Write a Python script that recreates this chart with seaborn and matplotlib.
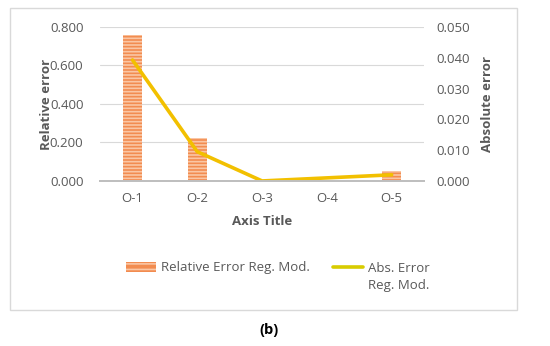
import matplotlib.pyplot as plt
import matplotlib.patches as mpatches
from matplotlib.lines import Line2D
from matplotlib.ticker import FormatStrFormatter
import pandas as pd
import seaborn as sns

# data
categories = ["O-1", "O-2", "O-3", "O-4", "O-5"]
relative_error = [0.760, 0.225, 0.002, 0.002, 0.050]
absolute_error = [0.0393, 0.0095, 0.0000, 0.0010, 0.0020]

df = pd.DataFrame({"obs": categories, "rel": relative_error, "abs": absolute_error})

sns.set_style("white")
plt.rcParams["font.family"] = ["Open Sans", "DejaVu Sans"]
plt.rcParams["hatch.linewidth"] = 1.2

grey_txt = "#595959"
bar_col = "#F28C50"
hatch_col = "#FAC6A4"
line_col = "#F2C000"

fig = plt.figure(figsize=(5.5, 3.46), dpi=100)
ax = fig.add_axes([0.182, 0.477, 0.589, 0.445])

sns.barplot(df, x="obs", y="rel", ax=ax, color=bar_col, width=0.29,
            saturation=1, edgecolor=hatch_col, linewidth=0, hatch="-----")

ax2 = ax.twinx()
sns.lineplot(df, x="obs", y="abs", ax=ax2, color=line_col, linewidth=2.6)

ax.set_ylim(0, 0.8)
ax.set_yticks([0, 0.2, 0.4, 0.6, 0.8])
ax.yaxis.set_major_formatter(FormatStrFormatter("%.3f"))
ax2.set_ylim(0, 0.05)
ax2.set_yticks([0, 0.01, 0.02, 0.03, 0.04, 0.05])
ax2.yaxis.set_major_formatter(FormatStrFormatter("%.3f"))
ax.set_xlim(-0.5, 4.5)

ax.grid(axis="y", color="#D9D9D9", linewidth=0.8)
ax.set_axisbelow(True)
for a in (ax, ax2):
    for s in ["top", "left", "right"]:
        a.spines[s].set_visible(False)
    a.spines["bottom"].set_color("#BFBFBF")
    a.spines["bottom"].set_linewidth(1.4)
    a.tick_params(length=0, labelsize=9.5, labelcolor=grey_txt)
ax.tick_params(axis="y", pad=12)
ax.tick_params(axis="x", pad=8)
ax2.tick_params(axis="y", pad=9)

ax.set_xlabel("Axis Title", fontsize=9.5, fontweight="bold", color=grey_txt, labelpad=7)
ax.set_ylabel("Relative error", fontsize=9.5, fontweight="bold", color=grey_txt, labelpad=-2)
ax2.set_ylabel("Absolute error", fontsize=9.5, fontweight="bold", color=grey_txt,
               rotation=90, labelpad=8)

handles = [mpatches.Patch(facecolor=bar_col, edgecolor=hatch_col, linewidth=0, hatch="---"),
           Line2D([0], [0], color="#D8CC00", linewidth=2.6)]
labels = ["Relative Error Reg. Mod.", "Abs. Error"]
leg = fig.legend(handles, labels, loc="center", bbox_to_anchor=(0.505, 1 - 268 / 346), ncol=2,
                 frameon=False, fontsize=9.5, handlelength=2.3, columnspacing=1.7,
                 handletextpad=0.4)
for t in leg.get_texts():
    t.set_color(grey_txt)

# second line of the "Abs. Error" entry, sits under the first
fig.canvas.draw()
bb = leg.get_texts()[1].get_window_extent()
x0, y0 = fig.transFigure.inverted().transform((bb.x0, bb.y0))
fig.text(x0, y0 - 4 / 346, "Reg. Mod.", ha="left", va="top", fontsize=9.5, color=grey_txt)

# chart border
fig.patches.append(mpatches.Rectangle((10 / 550, 1 - 310 / 346), 507 / 550, 302 / 346,
                                      transform=fig.transFigure, fill=False,
                                      edgecolor="#D9D9D9", linewidth=1))

fig.text(0.49, 1 - 330 / 346, "(b)", ha="center", va="center", fontsize=10.5,
         fontweight="bold", color="black")

fig.savefig("out.png", dpi=100)
